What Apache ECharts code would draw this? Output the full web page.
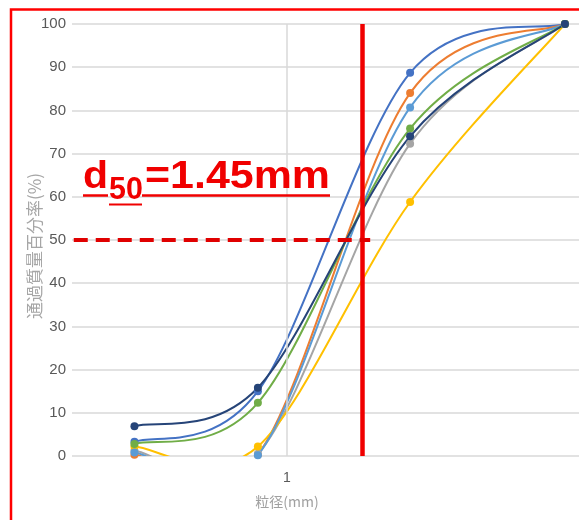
<!DOCTYPE html>
<html>
<head>
<meta charset="utf-8">
<script src="https://cdn.jsdelivr.net/npm/echarts@6/dist/echarts.min.js"></script>
<style>html,body{margin:0;padding:0;background:#fff;}#c{width:579px;height:520px;}</style>
</head>
<body>
<div id="c"></div>
<script>
// particle sizes (mm) of the sieve points
const sizes = [0.47, 0.866, 1.84, 3.96];
const seriesNames = ['S1', 'S2', 'S3', 'S4', 'S5', 'S6', 'S7'];
const seriesColors = ['#4472C4', '#ED7D31', '#A5A5A5', '#FFC000', '#5B9BD5', '#70AD47', '#264478'];
const blueVals = [3.3, 15.0, 88.7, 100];
const orangeVals = [0.3, 0.3, 84.0, 100];
const grayVals = [1.2, 0.5, 72.3, 100];
const yellowVals = [2.2, 2.2, 58.8, 100];
const lightBlueVals = [0.8, 0.2, 80.7, 100];
const greenVals = [2.8, 12.3, 75.8, 100];
const darkBlueVals = [6.9, 15.8, 74.0, 100];
const allVals = [blueVals, orangeVals, grayVals, yellowVals, lightBlueVals, greenVals, darkBlueVals];
const yTicks = [0, 10, 20, 30, 40, 50, 60, 70, 80, 90, 100];
const xTickLabel = 1;
const d50 = 1.45;
const d50Pct = 50;
const xAxisName = '粒径(mm)';
const yAxisName = '通過質量百分率(%)';

const X_MIN = 0.345, X_MAX = 4.246;
const chart = echarts.init(document.getElementById('c'), null, {renderer: 'canvas'});

const series = [];
// gridline at 1
series.push({
  type: 'line', data: [], silent: true, z: 1,
  markLine: {
    silent: true, symbol: 'none', label: {show: false},
    lineStyle: {color: '#D9D9D9', width: 1.5, type: 'solid'},
    data: [[{coord: [xTickLabel, 0]}, {coord: [xTickLabel, 100]}]]
  }
});

allVals.forEach((vals, i) => {
  const pts = sizes.map((s, j) => [s, vals[j]]);
  const color = seriesColors[i];
  // smoothed curve (Catmull-Rom bezier through the points, positions from the axes)
  series.push({
    name: seriesNames[i],
    type: 'custom',
    clip: true,
    silent: true,
    z: 3,
    encode: {x: 0, y: 1},
    data: pts,
    renderItem: (params, api) => {
      const idx = params.dataIndex;
      if (idx >= pts.length - 1) return null;
      const P = pts.map(p => api.coord(p));
      const g = k => P[Math.max(0, Math.min(P.length - 1, k))];
      const p0 = g(idx - 1), p1 = g(idx), p2 = g(idx + 1), p3 = g(idx + 2);
      return {
        type: 'bezierCurve',
        shape: {
          x1: p1[0], y1: p1[1],
          cpx1: p1[0] + (p2[0] - p0[0]) / 6, cpy1: p1[1] + (p2[1] - p0[1]) / 6,
          cpx2: p2[0] - (p3[0] - p1[0]) / 6, cpy2: p2[1] - (p3[1] - p1[1]) / 6,
          x2: p2[0], y2: p2[1]
        },
        style: {stroke: color, lineWidth: 2, fill: 'none'}
      };
    }
  });
  series.push({
    name: seriesNames[i],
    type: 'scatter',
    clip: false,
    z: 4,
    symbol: 'circle',
    symbolSize: 8,
    data: pts,
    itemStyle: {color: color, opacity: 1}
  });
});

series.push({
  type: 'line', data: [], silent: true, z: 10,
  markLine: {
    silent: true, symbol: 'none', label: {show: false}, z: 10,
    data: [
      [{coord: [d50, 0], lineStyle: {color: '#F00000', width: 4.5, type: 'solid'}},
       {coord: [d50, 100]}],
      [{coord: [0.348, d50Pct], lineStyle: {color: '#E00000', width: 4, type: [14, 8]}},
       {coord: [1.51, d50Pct]}]
    ]
  }
});

const red = '#F00000';
const option = {
  animation: false,
  backgroundColor: '#fff',
  grid: {left: 72, top: 24, right: 0, bottom: 64},
  xAxis: {
    type: 'log', logBase: 10, min: X_MIN, max: X_MAX,
    name: xAxisName, nameLocation: 'middle', nameGap: 39, nameMoveOverlap: false,
    nameTextStyle: {color: '#A0A0A0', fontSize: 14, fontFamily: 'Noto Sans CJK JP', padding: [0, 77, 0, 0]},
    axisLine: {show: false}, axisTick: {show: false},
    splitLine: {show: false},
    axisLabel: {
      showMinLabel: false, showMaxLabel: false,
      color: '#595959', fontSize: 14, margin: 15, fontFamily: 'Liberation Sans',
      formatter: v => (Math.abs(v - xTickLabel) < 1e-9 ? String(xTickLabel) : '')
    }
  },
  yAxis: {
    type: 'value', min: yTicks[0], max: yTicks[yTicks.length - 1], interval: 10,
    name: yAxisName, nameLocation: 'middle', nameGap: 29, nameMoveOverlap: false,
    nameTextStyle: {color: '#A6A6A6', fontSize: 17, fontFamily: 'Noto Sans CJK JP', padding: [0, 12, 0, 0]},
    axisLine: {show: false}, axisTick: {show: false},
    splitLine: {lineStyle: {color: '#D9D9D9', width: 1.5}},
    axisLabel: {color: '#595959', fontSize: 15, margin: 6, fontFamily: 'Liberation Sans'}
  },
  series: series,
  graphic: [
    {type: 'rect', z: 100, silent: true,
     shape: {x: 11, y: 9.5, width: 700, height: 700},
     style: {fill: 'none', stroke: '#FF0000', lineWidth: 2.5}},
    {type: 'text', z: 100, x: 83, y: 177.5, scaleX: 1.08,
     style: {text: 'd', fill: red, font: 'bold 38px "Liberation Sans"', verticalAlign: 'middle', align: 'left'}},
    {type: 'text', z: 100, x: 109, y: 190.5, scaleX: 0.95,
     style: {text: '50', fill: red, font: 'bold 32px "Liberation Sans"', verticalAlign: 'middle', align: 'left'}},
    {type: 'text', z: 100, x: 145, y: 177.5, scaleX: 1.13,
     style: {text: '=1.45mm', fill: red, font: 'bold 38px "Liberation Sans"', verticalAlign: 'middle', align: 'left'}},
    {type: 'line', z: 100, shape: {x1: 83, y1: 195.5, x2: 108, y2: 195.5}, style: {stroke: red, lineWidth: 2.5}},
    {type: 'line', z: 100, shape: {x1: 109, y1: 204.5, x2: 142, y2: 204.5}, style: {stroke: red, lineWidth: 2}},
    {type: 'line', z: 100, shape: {x1: 142, y1: 195.5, x2: 330, y2: 195.5}, style: {stroke: red, lineWidth: 2.5}}
  ]
};
chart.setOption(option);
</script>
</body>
</html>
